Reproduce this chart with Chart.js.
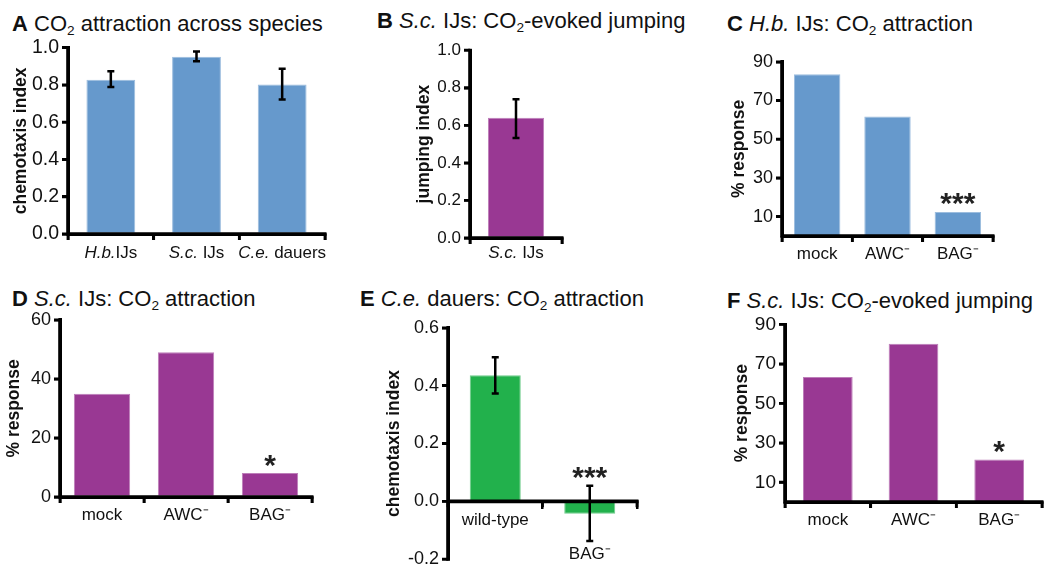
<!DOCTYPE html>
<html><head><meta charset="utf-8">
<script src="https://cdn.jsdelivr.net/npm/chart.js@4"></script>
<style>
body{margin:0;background:#fff;width:1050px;height:570px;position:relative;overflow:hidden;font-family:"Liberation Sans",Arial,sans-serif;}
.t{position:absolute;font-size:22px;line-height:22px;white-space:nowrap;color:#111}
.t b{font-weight:bold}
.t sub{font-size:0.62em;vertical-align:-0.32em;line-height:0}
canvas{position:absolute}
</style></head><body>
<div class="t" style="left:12px;top:13px"><b>A</b> CO<sub>2</sub> attraction across species</div>
<div class="t" style="left:377px;top:10px"><b>B</b> <i>S.c.</i> IJs: CO<sub>2</sub>-evoked jumping</div>
<div class="t" style="left:727px;top:13px"><b>C</b> <i>H.b.</i> IJs: CO<sub>2</sub> attraction</div>
<div class="t" style="left:12px;top:288px"><b>D</b> <i>S.c.</i> IJs: CO<sub>2</sub> attraction</div>
<div class="t" style="left:360px;top:288px"><b>E</b> <i>C.e.</i> dauers: CO<sub>2</sub> attraction</div>
<div class="t" style="left:727px;top:290px"><b>F</b> <i>S.c.</i> IJs: CO<sub>2</sub>-evoked jumping</div>
<canvas id="cA"></canvas><canvas id="cB"></canvas><canvas id="cC"></canvas>
<canvas id="cD"></canvas><canvas id="cE"></canvas><canvas id="cF"></canvas>
<script>
const BLUE = '#6699cc', PURPLE = '#993893', GREEN = '#22b14c';

// Panel A
const aCategories = ['H.b.IJs', 'S.c. IJs', 'C.e. dauers'];
const aValues = [0.828, 0.952, 0.803];
const aErrLow = [0.789, 0.927, 0.722];
const aErrHigh = [0.873, 0.980, 0.887];
const aTicks = [0, 0.2, 0.4, 0.6, 0.8, 1.0];
// Panel B
const bCategories = ['S.c. IJs'];
const bValues = [0.64];
const bErrLow = [0.532];
const bErrHigh = [0.739];
const bTicks = [0, 0.2, 0.4, 0.6, 0.8, 1.0];
// Panel C
const cCategories = ['mock', 'AWC\u207B', 'BAG\u207B'];
const cValues = [83.6, 61.8, 12.4];
const cStars = ['', '', '***'];
const cTicks = [10, 30, 50, 70, 90];
// Panel D
const dCategories = ['mock', 'AWC\u207B', 'BAG\u207B'];
const dValues = [35.0, 49.0, 8.1];
const dStars = ['', '', '*'];
const dTicks = [0, 20, 40, 60];
// Panel E
const eCategories = ['wild-type', ['', '', 'BAG\u207B']];
const eValues = [0.436, -0.043];
const eErrLow = [0.373, -0.137];
const eErrHigh = [0.498, 0.054];
const eStars = ['', '***'];
const eTicks = [-0.2, 0, 0.2, 0.4, 0.6];
// Panel F
const fCategories = ['mock', 'AWC\u207B', 'BAG\u207B'];
const fValues = [63.4, 80.2, 21.5];
const fStars = ['', '', '*'];
const fTicks = [10, 30, 50, 70, 90];

Chart.defaults.font.family = '"Liberation Sans", Arial, sans-serif';
Chart.defaults.color = '#111';

const extrasPlugin = {
  id: 'extras',
  afterDatasetsDraw(chart, args, o) {
    const ctx = chart.ctx, ys = chart.scales.y, xs = chart.scales.x;
    const meta = chart.getDatasetMeta(0);
    ctx.save();
    meta.data.forEach((bar, i) => {
      let top = Math.min(bar.y, bar.base);
      if (o.low && o.low[i] != null) {
        const y1 = ys.getPixelForValue(o.low[i]), y2 = ys.getPixelForValue(o.high[i]);
        ctx.strokeStyle = '#000'; ctx.lineWidth = 2.5;
        ctx.beginPath();
        ctx.moveTo(bar.x, y1); ctx.lineTo(bar.x, y2);
        ctx.moveTo(bar.x - 3.5, y1); ctx.lineTo(bar.x + 3.5, y1);
        ctx.moveTo(bar.x - 3.5, y2); ctx.lineTo(bar.x + 3.5, y2);
        ctx.stroke();
        top = Math.min(top, y2);
      }
      if (o.stars && o.stars[i]) {
        ctx.fillStyle = '#222';
        ctx.font = 'bold 30px "Liberation Sans", Arial, sans-serif';
        ctx.textAlign = 'center'; ctx.textBaseline = 'alphabetic';
        ctx.fillText(o.stars[i], bar.x, top + 1.5);
      }
    });
    if (o.italicLabels) {
      const base = chart.chartArea.bottom + o.labelOffset;
      ctx.fillStyle = '#111'; ctx.textBaseline = 'alphabetic';
      chart.data.labels.forEach((lab, i) => {
        const m = lab.match(/^([A-Z]\.[a-z]\.)(.*)$/);
        const itF = 'italic 17px "Liberation Sans", Arial, sans-serif';
        const nF = '17px "Liberation Sans", Arial, sans-serif';
        ctx.font = itF; const w1 = ctx.measureText(m[1]).width;
        ctx.font = nF; const w2 = ctx.measureText(m[2]).width;
        const x0 = xs.getPixelForValue(i) - (w1 + w2) / 2;
        ctx.textAlign = 'left';
        ctx.font = itF; ctx.fillText(m[1], x0, base);
        ctx.font = nF; ctx.fillText(m[2], x0 + w1, base);
      });
    }
    ctx.restore();
  },
  afterDraw(chart, args, o) {
    // bold black axes and tick marks, placed with the chart's own scales
    const ctx = chart.ctx, ys = chart.scales.y, xs = chart.scales.x, ca = chart.chartArea;
    const axisY = o.atZero ? ys.getPixelForValue(0) : ca.bottom;
    ctx.save();
    ctx.strokeStyle = '#000';
    ctx.lineCap = 'butt';
    ctx.lineWidth = 2.8;
    ctx.beginPath();
    ys.ticks.forEach(t => {
      const y = ys.getPixelForValue(t.value);
      ctx.moveTo(ca.left - 6, y); ctx.lineTo(ca.left, y);
    });
    const n = chart.data.labels.length;
    for (let i = 0; i <= n; i++) {
      const x = xs.left + i * (xs.right - xs.left) / n;
      ctx.moveTo(x, axisY); ctx.lineTo(x, axisY + 6);
    }
    ctx.stroke();
    ctx.lineWidth = 3.6;
    ctx.beginPath();
    ctx.moveTo(ca.left, ca.top - 1.5); ctx.lineTo(ca.left, ca.bottom + 1.5);
    ctx.moveTo(ca.left - 1.5, axisY); ctx.lineTo(ca.right + 1.5, axisY);
    ctx.stroke();
    ctx.restore();
  }
};

function lighten(hex) {
  const n = parseInt(hex.slice(1), 16);
  const r = (n >> 16) & 255, g = (n >> 8) & 255, b = n & 255;
  const f = c => Math.round(c + (255 - c) * 0.35);
  return `rgb(${f(r)},${f(g)},${f(b)})`;
}

function panel(p) {
  const cv = document.getElementById(p.id);
  cv.width = p.w; cv.height = p.h;
  cv.style.left = p.left + 'px'; cv.style.top = p.top + 'px';
  new Chart(cv, {
    type: 'bar',
    data: {
      labels: p.labels,
      datasets: [{
        data: p.values, backgroundColor: p.color, borderColor: lighten(p.color),
        borderWidth: 1, barPercentage: p.barPct, categoryPercentage: 1
      }]
    },
    plugins: [extrasPlugin],
    options: {
      responsive: false, animation: false, devicePixelRatio: 1,
      layout: { padding: { left: 0, right: 4, top: 0, bottom: 0 } },
      plugins: {
        legend: { display: false }, tooltip: { enabled: false },
        extras: { low: p.low, high: p.high, stars: p.stars, italicLabels: p.italic, labelOffset: p.labelOffset, atZero: !!p.atZero }
      },
      scales: {
        x: {
          position: p.atZero ? { y: 0 } : 'bottom',
          offset: true,
          grid: { offset: true, drawOnChartArea: false, drawTicks: true, tickLength: 6, color: '#000', lineWidth: 2.5, tickColor: '#000', tickWidth: 2.5 },
          border: { display: true, color: '#000', width: 3 },
          ticks: { display: !p.italic, color: '#111', font: { size: 17, lineHeight: 1.0 }, padding: 4, maxRotation: 0, autoSkip: false },
          afterFit: s => { s.height = p.xH; }
        },
        y: {
          min: p.min, max: p.max,
          afterBuildTicks: s => { s.ticks = p.ticks.map(v => ({ value: v })); },
          grid: { drawOnChartArea: false, tickLength: 6, color: '#000', lineWidth: 2.5, tickColor: '#000', tickWidth: 2.5 },
          border: { display: true, color: '#000', width: 3 },
          ticks: { color: '#111', font: { size: p.tickSize }, padding: 3, callback: v => p.fmt(v) },
          title: { display: true, text: p.yTitle, color: '#111', font: { size: 17.5, weight: 'bold' }, padding: 0 },
          afterFit: s => { s.width = p.yW; }
        }
      }
    }
  });
}

const f1 = v => (Math.abs(v) < 1e-9 ? 0 : v).toFixed(1);
const f0 = v => String(Math.round(v));

panel({ id: 'cA', left: 11, top: 33, w: 318, h: 241, yW: 57, xH: 40, labels: aCategories, values: aValues, tickSize: 19.5,
  color: BLUE, low: aErrLow, high: aErrHigh, min: 0, max: 1, ticks: aTicks, fmt: f1, yTitle: 'chemotaxis index',
  barPct: 0.57, italic: true, labelOffset: 24 });
panel({ id: 'cB', left: 414, top: 37, w: 152, h: 241, yW: 56, xH: 40, labels: bCategories, values: bValues, tickSize: 17,
  color: PURPLE, low: bErrLow, high: bErrHigh, min: 0, max: 1, ticks: bTicks, fmt: f1, yTitle: 'jumping index',
  barPct: 0.61, italic: true, labelOffset: 20 });
panel({ id: 'cC', left: 729, top: 48, w: 268, h: 228, yW: 53, xH: 40, labels: cCategories, values: cValues, tickSize: 18,
  color: BLUE, stars: cStars, min: 0, max: 90, ticks: cTicks, fmt: f0, yTitle: '% response', barPct: 0.66 });
panel({ id: 'cD', left: 4, top: 306, w: 312, h: 231, yW: 56, xH: 40, labels: dCategories, values: dValues, tickSize: 18,
  color: PURPLE, stars: dStars, min: 0, max: 60, ticks: dTicks, fmt: f0, yTitle: '% response', barPct: 0.67 });
panel({ id: 'cE', left: 384, top: 314, w: 257, h: 259, yW: 64, xH: 0, labels: eCategories, values: eValues, tickSize: 18,
  color: GREEN, low: eErrLow, high: eErrHigh, stars: eStars, min: -0.2, max: 0.6, ticks: eTicks, fmt: f1,
  yTitle: 'chemotaxis index', barPct: 0.54, atZero: true });
panel({ id: 'cF', left: 732, top: 310, w: 314, h: 232, yW: 53, xH: 40, labels: fCategories, values: fValues, tickSize: 19,
  color: PURPLE, stars: fStars, min: 0, max: 90, ticks: fTicks, fmt: f0, yTitle: '% response', barPct: 0.58 });
</script>
</body></html>
